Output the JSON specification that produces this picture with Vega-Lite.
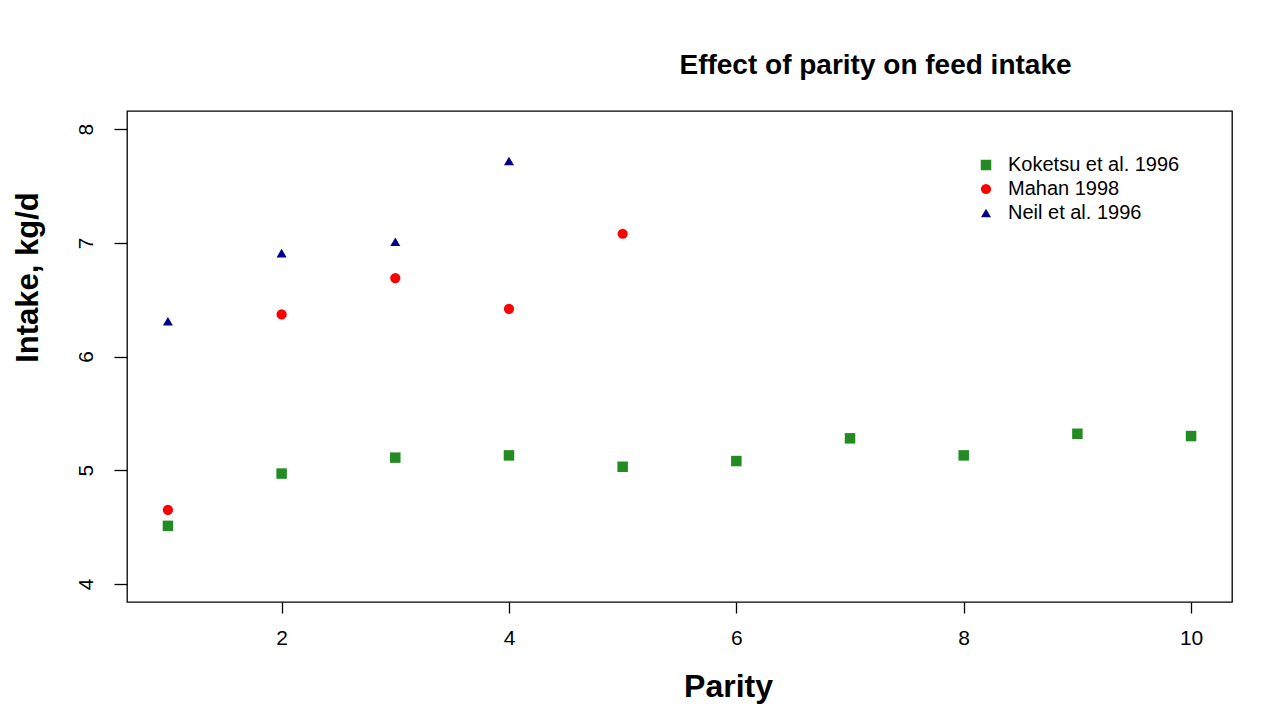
{
  "$schema": "https://vega.github.io/schema/vega-lite/v6.json",
  "autosize": {"type": "none"},
  "width": 1105,
  "height": 491,
  "padding": {"left": 127, "top": 111, "right": 47, "bottom": 114},
  "background": "white",
  "config": {
    "font": "Liberation Sans",
    "view": {"stroke": "black", "strokeWidth": 1.3},
    "axis": {"labelFontSize": 21, "labelColor": "black"}
  },
  "title": {
    "text": "Effect of parity on feed intake",
    "font": "Liberation Sans",
    "fontWeight": "bold",
    "fontSize": 28,
    "color": "black",
    "anchor": "middle",
    "frame": "group",
    "dx": 196,
    "baseline": "alphabetic",
    "offset": 9
  },
  "data": {
    "values": [
      {"parity": 1, "intake": 4.51, "study": "Koketsu et al. 1996"},
      {"parity": 2, "intake": 4.97, "study": "Koketsu et al. 1996"},
      {"parity": 3, "intake": 5.11, "study": "Koketsu et al. 1996"},
      {"parity": 4, "intake": 5.13, "study": "Koketsu et al. 1996"},
      {"parity": 5, "intake": 5.03, "study": "Koketsu et al. 1996"},
      {"parity": 6, "intake": 5.08, "study": "Koketsu et al. 1996"},
      {"parity": 7, "intake": 5.28, "study": "Koketsu et al. 1996"},
      {"parity": 8, "intake": 5.13, "study": "Koketsu et al. 1996"},
      {"parity": 9, "intake": 5.32, "study": "Koketsu et al. 1996"},
      {"parity": 10, "intake": 5.30, "study": "Koketsu et al. 1996"},
      {"parity": 1, "intake": 4.65, "study": "Mahan 1998"},
      {"parity": 2, "intake": 6.37, "study": "Mahan 1998"},
      {"parity": 3, "intake": 6.69, "study": "Mahan 1998"},
      {"parity": 4, "intake": 6.42, "study": "Mahan 1998"},
      {"parity": 5, "intake": 7.08, "study": "Mahan 1998"},
      {"parity": 1, "intake": 6.31, "study": "Neil et al. 1996"},
      {"parity": 2, "intake": 6.91, "study": "Neil et al. 1996"},
      {"parity": 3, "intake": 7.01, "study": "Neil et al. 1996"},
      {"parity": 4, "intake": 7.72, "study": "Neil et al. 1996"}
    ]
  },
  "mark": {"type": "point", "filled": true, "opacity": 1, "strokeWidth": 0},
  "encoding": {
    "x": {
      "field": "parity",
      "type": "quantitative",
      "scale": {"domain": [0.64, 10.36], "nice": false, "zero": false},
      "axis": {
        "values": [2, 4, 6, 8, 10],
        "grid": false,
        "domain": false,
        "tickColor": "black",
        "tickSize": 11,
        "tickWidth": 1.3,
        "labelFontSize": 21,
        "labelColor": "black",
        "labelPadding": 14,
        "title": "Parity",
        "titleFontSize": 32,
        "titleFontWeight": "bold",
        "titleColor": "black",
        "titleX": 601,
        "titleY": 94,
        "titleAlign": "center",
        "titleBaseline": "alphabetic"
      }
    },
    "y": {
      "field": "intake",
      "type": "quantitative",
      "scale": {"domain": [3.84, 8.16], "nice": false, "zero": false},
      "axis": {
        "values": [4, 5, 6, 7, 8],
        "grid": false,
        "domain": false,
        "tickColor": "black",
        "tickSize": 13,
        "tickWidth": 1.3,
        "labelFontSize": 21,
        "labelColor": "black",
        "labelAngle": 270,
        "labelAlign": "center",
        "labelBaseline": "bottom",
        "labelPadding": 18,
        "title": "Intake, kg/d",
        "titleFontSize": 31,
        "titleFontWeight": "bold",
        "titleColor": "black",
        "titleAngle": 270,
        "titleX": -90,
        "titleY": 166,
        "titleAlign": "center",
        "titleBaseline": "alphabetic"
      }
    },
    "color": {
      "field": "study",
      "type": "nominal",
      "scale": {
        "domain": ["Koketsu et al. 1996", "Mahan 1998", "Neil et al. 1996"],
        "range": ["#228B22", "#FF0000", "#00008B"]
      },
      "legend": {
        "title": null,
        "orient": "none",
        "legendX": 849,
        "legendY": 44,
        "padding": 0,
        "labelFontSize": 20,
        "labelColor": "black",
        "labelLimit": 400,
        "labelOffset": 12,
        "rowPadding": 4,
        "symbolStrokeWidth": 0
      }
    },
    "shape": {
      "field": "study",
      "type": "nominal",
      "scale": {
        "domain": ["Koketsu et al. 1996", "Mahan 1998", "Neil et al. 1996"],
        "range": ["square", "circle", "triangle-up"]
      },
      "legend": null
    },
    "size": {
      "field": "study",
      "type": "nominal",
      "scale": {
        "domain": ["Koketsu et al. 1996", "Mahan 1998", "Neil et al. 1996"],
        "range": [110, 100, 200]
      },
      "legend": null
    }
  }
}
